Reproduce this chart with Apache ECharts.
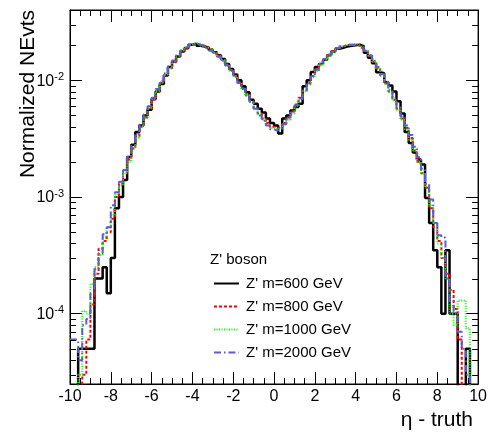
<!DOCTYPE html>
<html><head><meta charset="utf-8">
<script src="https://cdn.jsdelivr.net/npm/echarts@6/dist/echarts.min.js"></script>
<style>html,body{margin:0;padding:0;background:#fff}#c{width:490px;height:437px}</style>
</head><body><div id="c"></div>
<script>
// Histogram binning: 100 bins from -10 to 10
const xMin = -10, xMax = 10, nBins = 100;
const seriesNames = ["Z' m=600 GeV", "Z' m=800 GeV", "Z' m=1000 GeV", "Z' m=2000 GeV"];
const xTicks = [-10, -8, -6, -4, -2, 0, 2, 4, 6, 8, 10];
const yMajorTicks = [1e-4, 1e-3, 1e-2];
const yMinorTicks = [3e-5,4e-5,5e-5,6e-5,7e-5,8e-5,9e-5,2e-4,3e-4,4e-4,5e-4,6e-4,7e-4,8e-4,9e-4,2e-3,3e-3,4e-3,5e-3,6e-3,7e-3,8e-3,9e-3,2e-2,3e-2,4e-2];

// bin contents (normalized), bins centred at -9.9 ... 9.9
const m600 = [
 0,0,5e-5,5e-5,5e-5,5e-5,2.0e-4,2.0e-4,2.5e-4,1.5e-4,
 3.0e-4,8.0e-4,1.0e-3,1.4e-3,2.2e-3,2.8e-3,3.6e-3,4.1e-3,5.0e-3,5.6e-3,
 6.9e-3,8.0e-3,9.3e-3,1.1e-2,1.3e-2,1.45e-2,1.6e-2,1.76e-2,1.88e-2,2.02e-2,
 2.06e-2,1.98e-2,1.95e-2,1.9e-2,1.82e-2,1.74e-2,1.64e-2,1.52e-2,1.38e-2,1.25e-2,
 1.12e-2,1.0e-2,8.9e-3,7.9e-3,6.8e-3,6.3e-3,5.7e-3,5.3e-3,4.7e-3,4.3e-3,
 4.1e-3,3.5e-3,4.7e-3,5.0e-3,5.5e-3,5.9e-3,6.3e-3,8.9e-3,1.0e-2,1.18e-2,
 1.3e-2,1.38e-2,1.5e-2,1.64e-2,1.76e-2,1.86e-2,1.9e-2,1.95e-2,1.98e-2,2.0e-2,
 2.02e-2,1.96e-2,1.72e-2,1.56e-2,1.4e-2,1.17e-2,1.15e-2,9.6e-3,9.0e-3,8.0e-3,
 6.6e-3,5.2e-3,3.6e-3,2.9e-3,2.4e-3,2.1e-3,1.9e-3,9.8e-4,6.0e-4,3.5e-4,
 2.5e-4,1.0e-4,3.5e-4,1.0e-4,1.0e-4,0,0,5e-5,0,0
];
const m800 = [
 0,0,0,3e-5,6e-5,1.2e-4,2.2e-4,3.6e-4,4.2e-4,5.0e-4,
 6.5e-4,1.0e-3,1.3e-3,1.6e-3,2.1e-3,2.6e-3,3.3e-3,4.0e-3,4.8e-3,5.7e-3,
 6.8e-3,8.0e-3,9.5e-3,1.1e-2,1.27e-2,1.43e-2,1.6e-2,1.76e-2,1.9e-2,2.0e-2,
 2.05e-2,2.03e-2,1.98e-2,1.92e-2,1.84e-2,1.74e-2,1.62e-2,1.5e-2,1.37e-2,1.23e-2,
 1.1e-2,9.7e-3,8.6e-3,7.5e-3,6.6e-3,5.8e-3,5.2e-3,4.7e-3,4.3e-3,4.0e-3,
 3.9e-3,4.0e-3,4.3e-3,4.8e-3,5.4e-3,6.2e-3,7.1e-3,8.2e-3,9.5e-3,1.09e-2,
 1.24e-2,1.38e-2,1.52e-2,1.65e-2,1.78e-2,1.88e-2,1.95e-2,2.0e-2,2.02e-2,2.02e-2,
 1.98e-2,1.9e-2,1.78e-2,1.62e-2,1.44e-2,1.27e-2,1.1e-2,9.4e-3,8.0e-3,6.8e-3,
 5.7e-3,4.7e-3,3.9e-3,3.2e-3,2.5e-3,2.0e-3,1.6e-3,1.2e-3,8.0e-4,5.5e-4,
 4.2e-4,3.0e-4,2.2e-4,1.6e-4,1.1e-4,6e-5,0,0,0,0
];
const m1000 = [
 0,0,3e-5,1.05e-4,1.0e-4,1.8e-4,2.5e-4,3.2e-4,4.5e-4,5.5e-4,
 7.0e-4,1.05e-3,1.25e-3,1.6e-3,2.0e-3,2.6e-3,3.2e-3,4.0e-3,4.9e-3,5.8e-3,
 6.9e-3,8.1e-3,9.6e-3,1.12e-2,1.28e-2,1.45e-2,1.62e-2,1.8e-2,1.93e-2,2.03e-2,
 2.08e-2,2.06e-2,1.98e-2,1.9e-2,1.83e-2,1.72e-2,1.6e-2,1.48e-2,1.35e-2,1.21e-2,
 1.08e-2,9.5e-3,8.4e-3,7.4e-3,6.5e-3,5.7e-3,5.1e-3,4.6e-3,4.2e-3,3.9e-3,
 3.8e-3,3.9e-3,4.2e-3,4.6e-3,5.2e-3,6.0e-3,6.9e-3,8.0e-3,9.2e-3,1.06e-2,
 1.2e-2,1.35e-2,1.49e-2,1.63e-2,1.75e-2,1.86e-2,1.95e-2,2.01e-2,2.04e-2,2.03e-2,
 1.99e-2,1.92e-2,1.8e-2,1.63e-2,1.45e-2,1.27e-2,1.1e-2,9.3e-3,7.9e-3,6.7e-3,
 5.6e-3,4.6e-3,3.8e-3,3.1e-3,2.5e-3,2.0e-3,1.6e-3,1.2e-3,8.5e-4,6.0e-4,
 4.0e-4,3.0e-4,2.0e-4,1.0e-4,8e-5,1.3e-4,1.3e-4,7.5e-5,0,0
];
const m2000 = [
 6e-5,6e-5,4e-5,8e-5,9e-5,1.5e-4,2.4e-4,3.3e-4,4.8e-4,5.5e-4,
 8.5e-4,1.1e-3,1.35e-3,1.7e-3,2.2e-3,2.8e-3,3.5e-3,4.2e-3,5.1e-3,6.0e-3,
 7.1e-3,8.4e-3,9.9e-3,1.15e-2,1.32e-2,1.48e-2,1.64e-2,1.8e-2,1.92e-2,2.01e-2,
 2.04e-2,2.02e-2,1.96e-2,1.88e-2,1.8e-2,1.7e-2,1.59e-2,1.47e-2,1.34e-2,1.2e-2,
 1.07e-2,9.5e-3,8.4e-3,7.4e-3,6.5e-3,5.7e-3,5.0e-3,4.5e-3,4.1e-3,3.8e-3,
 3.7e-3,3.85e-3,4.2e-3,4.7e-3,5.3e-3,6.1e-3,7.0e-3,8.1e-3,9.4e-3,1.08e-2,
 1.23e-2,1.38e-2,1.52e-2,1.66e-2,1.78e-2,1.88e-2,1.96e-2,2.0e-2,2.02e-2,2.01e-2,
 1.97e-2,1.9e-2,1.79e-2,1.64e-2,1.47e-2,1.3e-2,1.13e-2,9.7e-3,8.3e-3,7.0e-3,
 5.9e-3,4.9e-3,4.1e-3,3.4e-3,2.7e-3,2.2e-3,1.75e-3,1.3e-3,9.5e-4,6.0e-4,
 4.7e-4,4.5e-4,2.0e-4,1.3e-4,1.0e-4,7e-5,5e-5,3e-5,0,0
];

const colors = ['#000000', '#ff0000', '#00ff00', '#5b5bdb'];
const dashes = ['solid', [3, 2], [1, 1.5], [7, 3, 1.5, 3]];
const widths = [2.5, 2, 2, 2];
const allData = [m600, m800, m1000, m2000];
const EMPTY = 1e-9; // empty bins fall below the log-axis range

function histPoints(vals) {
  const w = (xMax - xMin) / nBins;
  const pts = vals.map((v, i) => [xMin + i * w, v > 0 ? v : EMPTY]);
  pts.push([xMax, vals[vals.length - 1] > 0 ? vals[vals.length - 1] : EMPTY]);
  return pts;
}

const FONT = 'Liberation Sans, Arial, Helvetica, sans-serif';
const chart = echarts.init(document.getElementById('c'), null, {renderer: 'canvas'});

function xAxisCfg(pos, showLabels) {
  return {
    type: 'value', position: pos, min: xMin, max: xMax, interval: 2,
    axisLine: {show: true, onZero: false, lineStyle: {color: '#000', width: 1}},
    axisTick: {show: true, inside: true, length: 12, lineStyle: {color: '#000', width: 1}},
    minorTick: {show: true, splitNumber: 4, length: 6, lineStyle: {color: '#000', width: 1}},
    splitLine: {show: false}, minorSplitLine: {show: false},
    axisLabel: {show: showLabels, fontSize: 16, color: '#000', fontFamily: FONT, margin: 5,
      formatter: v => (xTicks.indexOf(v) >= 0 ? String(v) : '')}
  };
}
function yAxisCfg(pos, showLabels) {
  return {
    type: 'log', logBase: 10, position: pos, min: 2.5e-5, max: 0.04,
    axisLine: {show: true, onZero: false, lineStyle: {color: '#000', width: 1}},
    axisTick: {show: true, inside: true, length: 12, lineStyle: {color: '#000', width: 1}},
    splitLine: {show: false},
    axisLabel: {show: showLabels, color: '#000', fontFamily: FONT, margin: 6,
      formatter: function (v) {
        const e = Math.log10(v);
        const r = Math.round(e);
        if (Math.abs(e - r) > 1e-6) return '';
        return '{b|10}{s|' + r + '}';
      },
      rich: {
        b: {fontSize: 16, fontFamily: FONT, color: '#000', lineHeight: 18, verticalAlign: 'bottom'},
        s: {fontSize: 11, fontFamily: FONT, color: '#000', lineHeight: 18, verticalAlign: 'top'}
      }
    }
  };
}

const series = allData.map((d, i) => ({
  name: seriesNames[i], type: 'line', xAxisIndex: 0, yAxisIndex: 0,
  step: 'end', symbol: 'none', showSymbol: false, animation: false, clip: true,
  data: histPoints(d),
  lineStyle: {color: colors[i], width: widths[i], type: dashes[i]},
  itemStyle: {color: colors[i]}, z: 2 + i
}));

series.push({
  type: 'custom', xAxisIndex: 0, yAxisIndex: 0, silent: true, animation: false, z: 10,
  data: yMinorTicks.map(v => [xMin, v]),
  renderItem: function (params, api) {
    const v = api.value(1);
    const pL = api.coord([xMin, v]);
    const pR = api.coord([xMax, v]);
    const y = Math.round(pL[1]) + 0.5;
    return {type: 'group', children: [
      {type: 'line', shape: {x1: pL[0], y1: y, x2: pL[0] + 6, y2: y}, style: {stroke: '#000', lineWidth: 1}},
      {type: 'line', shape: {x1: pR[0], y1: y, x2: pR[0] - 6, y2: y}, style: {stroke: '#000', lineWidth: 1}}
    ]};
  }
});

chart.setOption({
  animation: false,
  backgroundColor: '#fff',
  grid: {left: 70, right: 11, top: 10, bottom: 53, show: true, borderColor: '#000', borderWidth: 1, backgroundColor: 'transparent'},
  xAxis: [xAxisCfg('bottom', true), xAxisCfg('top', false)],
  yAxis: [yAxisCfg('left', true), yAxisCfg('right', false)],
  title: [
    {text: "Z' boson", left: 210, top: 252, padding: 0,
     textStyle: {fontSize: 15, fontWeight: 'normal', color: '#000', fontFamily: FONT}},
    {text: 'η - truth', right: 17, top: 410, padding: 0,
     textStyle: {fontSize: 21, fontWeight: 'normal', color: '#000', fontFamily: FONT}}
  ],
  legend: {
    orient: 'vertical', left: 213, top: 276, itemWidth: 25, itemHeight: 14, itemGap: 8, padding: 0,
    data: seriesNames, selectedMode: false,
    itemStyle: {opacity: 0},
    textStyle: {fontSize: 15, color: '#000', fontFamily: FONT, padding: [0, 0, 0, 2]}
  },
  graphic: [{
    type: 'text', x: 28, y: 10, rotation: Math.PI / 2, silent: true,
    style: {text: 'Normalized NEvts', fill: '#000', font: '21px ' + FONT, align: 'right', verticalAlign: 'middle'}
  }],
  series: series
});
</script></body></html>
